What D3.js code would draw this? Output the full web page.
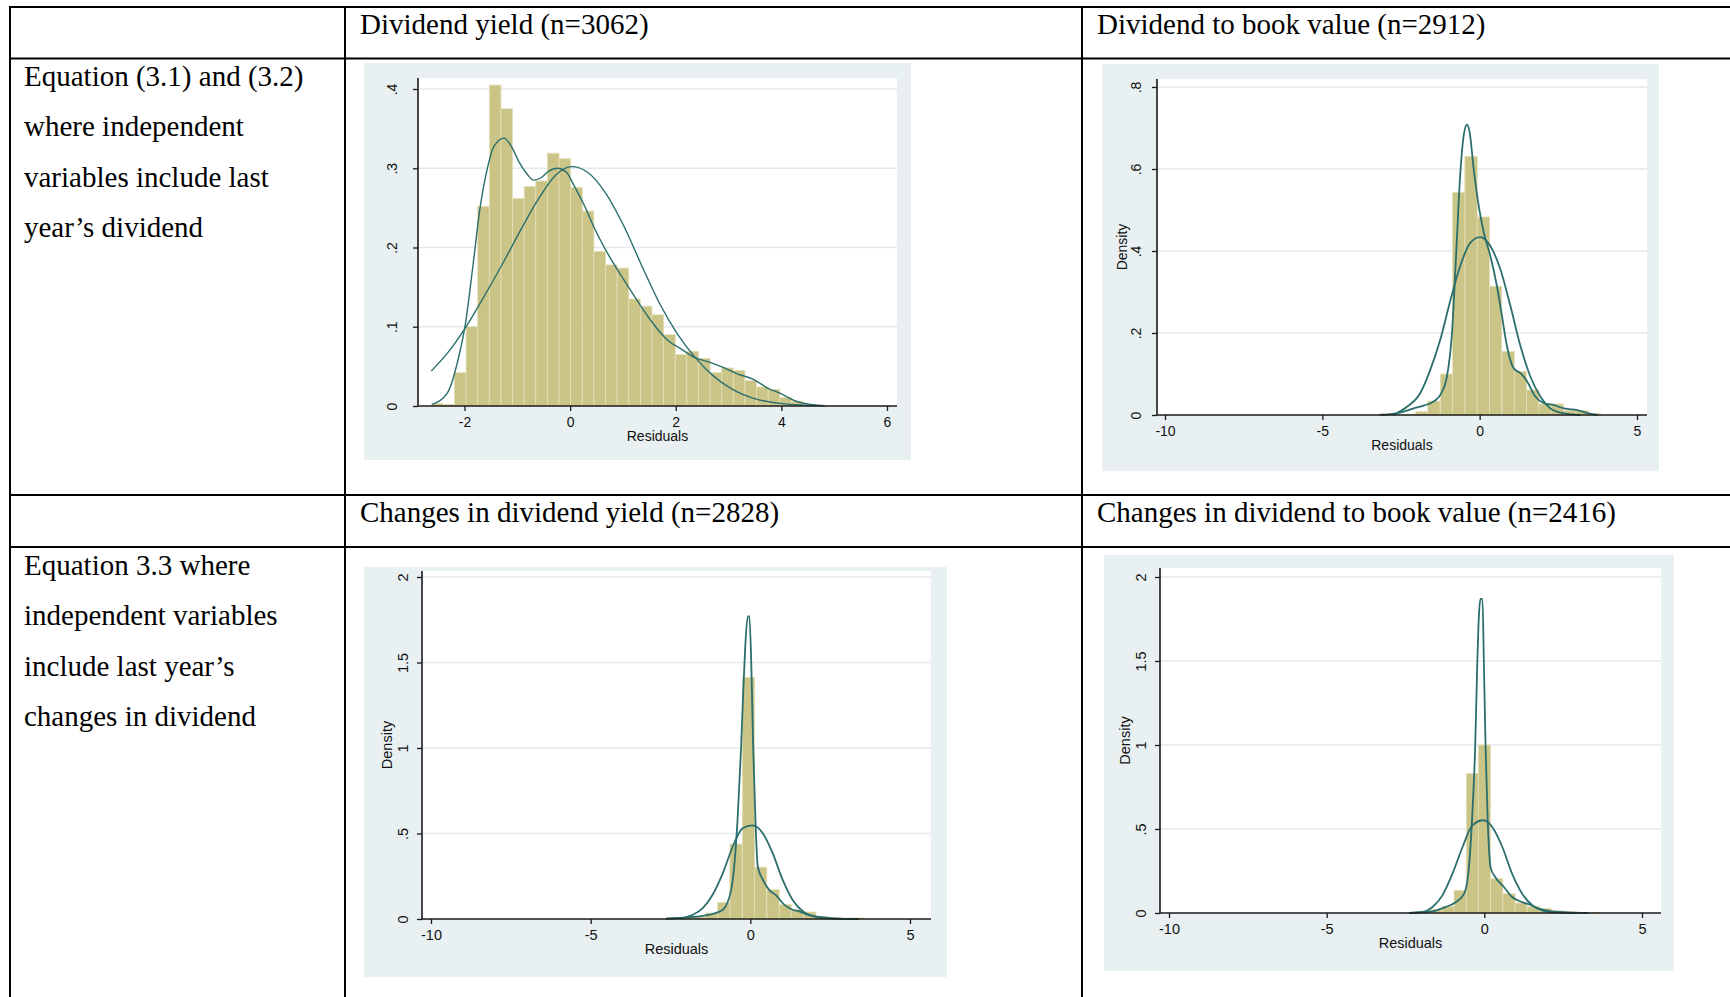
<!DOCTYPE html>
<html>
<head>
<meta charset="utf-8">
<script src="https://cdn.jsdelivr.net/npm/d3@7/dist/d3.min.js"></script>
<style>
body { margin: 0; background: #fff; }
svg text { font-family: "Liberation Sans", Arial, sans-serif; }
.cell { font-family: "Liberation Serif", "Times New Roman", serif; font-size: 29px; fill: #000; }
</style>
</head>
<body>
<svg width="1730" height="997"></svg>
<script>

// ---- table text
const headerTop = ["Dividend yield (n=3062)", "Dividend to book value (n=2912)"];
const headerBottom = ["Changes in dividend yield (n=2828)", "Changes in dividend to book value (n=2416)"];
const rowLabelTop = ["Equation (3.1) and (3.2)", "where independent", "variables include last", "year\u2019s dividend"];
const rowLabelBottom = ["Equation 3.3 where", "independent variables", "include last year\u2019s", "changes in dividend"];

// ---- tick labels
const ticksX1 = [-2, 0, 2, 4, 6];
const ticksY1 = [0, 0.1, 0.2, 0.3, 0.4];
const ticksX2 = [-10, -5, 0, 5];
const ticksY2 = [0, 0.2, 0.4, 0.6, 0.8];
const ticksY3 = [0, 0.5, 1, 1.5, 2];

// ---- Dividend yield (n=3062)
const dyBinWidth = 0.22;
const dyBinLeft = [-2.63, -2.41, -2.19, -1.97, -1.75, -1.53, -1.31, -1.09, -0.87, -0.65, -0.43, -0.21,
  0.01, 0.23, 0.45, 0.67, 0.89, 1.11, 1.33, 1.55, 1.77, 1.99, 2.21, 2.43, 2.65, 2.87, 3.09, 3.31,
  3.53, 3.75, 3.97, 4.19];
const dyHeight = [0.003, 0.002, 0.042, 0.100, 0.252, 0.405, 0.375, 0.262, 0.277, 0.284, 0.319, 0.312,
  0.276, 0.246, 0.195, 0.178, 0.174, 0.135, 0.126, 0.115, 0.090, 0.065, 0.069, 0.060, 0.042, 0.048,
  0.045, 0.032, 0.024, 0.021, 0.011, 0.006];
const dyKernel = [[-2.61, 0.002], [-2.32, 0.017], [-2.12, 0.059], [-1.98, 0.105], [-1.84, 0.177],
  [-1.71, 0.248], [-1.57, 0.299], [-1.44, 0.328], [-1.25, 0.338], [-1.10, 0.326], [-0.96, 0.307],
  [-0.82, 0.293], [-0.69, 0.285], [-0.55, 0.288], [-0.41, 0.296], [-0.24, 0.300], [-0.07, 0.295],
  [0.06, 0.280], [0.27, 0.253], [0.47, 0.223], [0.74, 0.189], [1.01, 0.160], [1.29, 0.131],
  [1.56, 0.105], [1.83, 0.084], [2.10, 0.072], [2.37, 0.061], [2.65, 0.055], [2.92, 0.048],
  [3.19, 0.040], [3.46, 0.034], [3.73, 0.023], [4.01, 0.015], [4.28, 0.006], [4.55, 0.002], [4.82, 0.0005]];
const dyNormal = [[-2.63, 0.044], [-2.32, 0.067], [-1.98, 0.099], [-1.64, 0.137], [-1.30, 0.177],
  [-0.96, 0.219], [-0.62, 0.259], [-0.28, 0.291], [0.03, 0.302], [0.33, 0.295], [0.67, 0.269],
  [1.01, 0.228], [1.35, 0.178], [1.69, 0.130], [2.03, 0.091], [2.37, 0.061], [2.71, 0.038],
  [3.05, 0.022], [3.46, 0.010], [4.01, 0.003], [4.82, 0.0003]];

// ---- Dividend to book value (n=2912)
const dbBinWidth = 0.392;
const dbBinLeft = [-3.21, -2.82, -2.43, -2.04, -1.65, -1.25, -0.86, -0.47, -0.08, 0.31, 0.71, 1.10,
  1.49, 1.88, 2.27, 2.67, 3.06, 3.45];
const dbHeight = [0.003, 0.0, 0.002, 0.008, 0.034, 0.100, 0.543, 0.631, 0.483, 0.314, 0.155, 0.106,
  0.061, 0.027, 0.027, 0.011, 0.011, 0.004];
const dbKernel = [[-3.16, 0.0], [-2.53, 0.006], [-2.10, 0.016], [-1.78, 0.023], [-1.46, 0.033],
  [-1.25, 0.049], [-1.04, 0.094], [-0.88, 0.200], [-0.74, 0.404], [-0.62, 0.584], [-0.49, 0.690],
  [-0.40, 0.708], [-0.32, 0.690], [-0.19, 0.600], [-0.03, 0.510], [0.13, 0.445], [0.34, 0.388],
  [0.55, 0.314], [0.71, 0.241], [0.87, 0.167], [1.08, 0.114], [1.30, 0.102], [1.51, 0.082],
  [1.77, 0.045], [2.04, 0.029], [2.36, 0.024], [2.68, 0.016], [3.10, 0.012], [3.47, 0.004], [3.74, 0.0]];
const dbNormal = [[-2.74, 0.0], [-2.31, 0.020], [-1.89, 0.053], [-1.57, 0.110], [-1.25, 0.184],
  [-0.93, 0.280], [-0.62, 0.363], [-0.30, 0.420], [0.02, 0.434], [0.34, 0.412], [0.66, 0.355],
  [0.98, 0.265], [1.30, 0.167], [1.61, 0.094], [1.93, 0.045], [2.25, 0.016], [2.68, 0.004], [3.20, 0.0]];

// ---- Changes in dividend yield (n=2828)
const cdyBinWidth = 0.384;
const cdyBinLeft = [-2.56, -2.17, -1.79, -1.40, -1.02, -0.64, -0.25, 0.13, 0.52, 0.90, 1.28, 1.67,
  2.05, 2.44, 2.82, 3.20];
const cdyHeight = [0.003, 0.005, 0.012, 0.035, 0.097, 0.438, 1.412, 0.303, 0.171, 0.084, 0.054, 0.041,
  0.015, 0.010, 0.006, 0.006];
const cdyKernel = [[-2.64, 0.002], [-1.80, 0.012], [-1.28, 0.025], [-0.86, 0.054], [-0.60, 0.170],
  [-0.40, 0.580], [-0.29, 1.000], [-0.22, 1.340], [-0.16, 1.590], [-0.08, 1.770], [-0.03, 1.770],
  [0.03, 1.490], [0.09, 1.000], [0.16, 0.580], [0.23, 0.310], [0.39, 0.230], [0.59, 0.170],
  [0.80, 0.140], [1.06, 0.084], [1.32, 0.054], [1.53, 0.045], [1.79, 0.025], [2.16, 0.012],
  [2.57, 0.004], [3.40, 0.0]];
const cdyNormal = [[-2.64, 0.002], [-2.22, 0.006], [-1.80, 0.025], [-1.49, 0.064], [-1.18, 0.142],
  [-0.86, 0.268], [-0.55, 0.424], [-0.24, 0.531], [0.05, 0.547], [0.39, 0.502], [0.70, 0.385],
  [1.01, 0.230], [1.32, 0.113], [1.64, 0.045], [2.05, 0.012], [2.57, 0.002], [3.40, 0.0]];

// ---- Changes in dividend to book value (n=2416)
const cdbBinWidth = 0.386;
const cdbBinLeft = [-2.50, -2.12, -1.73, -1.34, -0.96, -0.57, -0.19, 0.20, 0.59, 0.97, 1.36, 1.74,
  2.13, 2.51, 2.90, 3.29];
const cdbHeight = [0.004, 0.008, 0.020, 0.040, 0.135, 0.830, 1.000, 0.204, 0.115, 0.060, 0.040, 0.026,
  0.014, 0.008, 0.004, 0.003];
const cdbKernel = [[-2.38, 0.0], [-1.64, 0.010], [-1.22, 0.036], [-0.90, 0.065], [-0.64, 0.115],
  [-0.48, 0.290], [-0.38, 0.590], [-0.29, 0.990], [-0.23, 1.440], [-0.17, 1.780], [-0.12, 1.870],
  [-0.06, 1.870], [-0.01, 1.440], [0.04, 0.990], [0.10, 0.590], [0.20, 0.270], [0.36, 0.210],
  [0.62, 0.155], [0.88, 0.095], [1.20, 0.065], [1.41, 0.052], [1.73, 0.026], [2.15, 0.010],
  [2.67, 0.004], [3.30, 0.0]];
const cdbNormal = [[-2.38, 0.0], [-1.96, 0.006], [-1.64, 0.036], [-1.33, 0.105], [-1.01, 0.234],
  [-0.69, 0.393], [-0.38, 0.522], [-0.03, 0.552], [0.25, 0.512], [0.57, 0.393], [0.88, 0.234],
  [1.20, 0.115], [1.52, 0.046], [1.83, 0.016], [2.25, 0.004], [2.88, 0.0]];

const svg = d3.select('svg');
svg.append('rect').attr('width', 1730).attr('height', 997).attr('fill', '#fff');

//Table grid
const grid = svg.append('g').attr('stroke', '#000').attr('stroke-width', 2);
[7, 58.5, 495, 547].forEach(yy => {
  grid.append('line').attr('x1', 9).attr('x2', 1730).attr('y1', yy).attr('y2', yy);
});
[10, 345, 1082].forEach(xx => {
  grid.append('line').attr('x1', xx).attr('x2', xx).attr('y1', 6).attr('y2', 997);
});

//Table text
const txt = svg.append('g');
txt.selectAll('.h1').data(headerTop).enter().append('text')
  .attr('class', 'cell').attr('x', (d, i) => [360, 1097][i]).attr('y', 34).text(d => d);
txt.selectAll('.h2').data(headerBottom).enter().append('text')
  .attr('class', 'cell').attr('x', (d, i) => [360, 1097][i]).attr('y', 522).text(d => d);
txt.selectAll('.r1').data(rowLabelTop).enter().append('text')
  .attr('class', 'cell').attr('x', 24).attr('y', (d, i) => 86 + i * 50.4).text(d => d);
txt.selectAll('.r2').data(rowLabelBottom).enter().append('text')
  .attr('class', 'cell').attr('x', 24).attr('y', (d, i) => 574.5 + i * 50.6).text(d => d);

//Draw one Stata-style histogram with kernel + normal overlay
function drawChart(cfg, binLeft, binWidth, heights, kernel, normal) {
  const g = svg.append('g');
  const p = cfg.panel;

  g.append('rect').attr('x', p[0]).attr('y', p[1]).attr('width', p[2] - p[0]).attr('height', p[3] - p[1])
    .attr('fill', '#e9f0f2');
  g.append('rect').attr('x', cfg.left).attr('y', cfg.top).attr('width', cfg.right - cfg.left)
    .attr('height', cfg.bottom - cfg.top).attr('fill', '#fff');

  const x = d3.scaleLinear().domain(cfg.xRef).range(cfg.xPix);
  const y = d3.scaleLinear().domain([0, cfg.yTicks[cfg.yTicks.length - 1]]).range([cfg.bottom, cfg.yTopPix]);

  //gridlines
  g.selectAll('.grid').data(cfg.yTicks.filter(t => t > 0)).enter().append('line')
    .attr('x1', cfg.left).attr('x2', cfg.right)
    .attr('y1', d => y(d)).attr('y2', d => y(d))
    .attr('stroke', '#e2eaee').attr('stroke-width', 1.5);

  //bars
  g.selectAll('.bar').data(heights).enter().append('rect')
    .attr('x', (d, i) => x(binLeft[i]))
    .attr('width', (d, i) => x(binLeft[i] + binWidth) - x(binLeft[i]))
    .attr('y', d => y(d))
    .attr('height', d => cfg.bottom - y(d))
    .attr('fill', '#cbc487')
    .attr('stroke', '#e4dfb8').attr('stroke-width', 0.8);

  const line = d3.line().x(d => x(d[0])).y(d => y(d[1])).curve(d3.curveMonotoneX);
  [normal, kernel].forEach(s => {
    g.append('path').attr('d', line(s)).attr('fill', 'none')
      .attr('stroke', '#2b6f6d').attr('stroke-width', cfg.lw);
  });

  //axes
  const fmt = d => (d % 1 ? String(d).replace(/^0/, '') : String(d));
  const ax = g.append('g').attr('transform', `translate(0,${cfg.bottom})`)
    .call(d3.axisBottom(x).tickValues(cfg.xTicks).tickSize(5).tickSizeOuter(0).tickFormat(d3.format('d')));
  ax.select('.domain').attr('d', `M${cfg.left},0H${cfg.right}`);
  ax.selectAll('line').attr('stroke', '#1a1a1a').attr('stroke-width', 1.3);
  ax.select('.domain').attr('stroke', '#1a1a1a').attr('stroke-width', 1.6);
  ax.selectAll('text').attr('y', 11).attr('font-size', cfg.fs).attr('fill', '#111')
    .text(d => d < 0 ? '-' + Math.abs(d) : d);

  const ay = g.append('g').attr('transform', `translate(${cfg.left},0)`)
    .call(d3.axisLeft(y).tickValues(cfg.yTicks).tickSize(5).tickSizeOuter(0).tickFormat(fmt));
  ay.select('.domain').attr('d', `M0,${cfg.bottom}V${cfg.top}`);
  ay.selectAll('line').attr('stroke', '#1a1a1a').attr('stroke-width', 1.3);
  ay.select('.domain').attr('stroke', '#1a1a1a').attr('stroke-width', 1.6);
  ay.selectAll('text').attr('x', null).attr('dy', '0.35em').attr('text-anchor', 'middle')
    .attr('transform', `translate(${-cfg.yLabOff},0) rotate(-90)`)
    .attr('font-size', cfg.fs).attr('fill', '#111');

  g.append('text').attr('x', (cfg.left + cfg.right) / 2).attr('y', cfg.bottom + 35)
    .attr('text-anchor', 'middle').attr('font-size', cfg.fs).attr('fill', '#111').text('Residuals');

  if (cfg.density) {
    g.append('text').attr('transform', `translate(${cfg.left - 35},${(cfg.top + cfg.bottom) / 2}) rotate(-90)`)
      .attr('text-anchor', 'middle').attr('dy', '0.35em').attr('font-size', cfg.fs).attr('fill', '#111')
      .text('Density');
  }
}

drawChart({panel: [364, 63, 911, 460], left: 418, right: 897, top: 78, bottom: 406,
  xRef: [-2, 6], xPix: [464.5, 887], yTopPix: 89, xTicks: ticksX1, yTicks: ticksY1,
  fs: 14, yLabOff: 26, lw: 1.4, density: false}, dyBinLeft, dyBinWidth, dyHeight, dyKernel, dyNormal);

drawChart({panel: [1102, 64, 1659, 471], left: 1157, right: 1647, top: 79, bottom: 415,
  xRef: [-10, 5], xPix: [1165, 1637], yTopPix: 87, xTicks: ticksX2, yTicks: ticksY2,
  fs: 14, yLabOff: 21, lw: 1.8, density: true}, dbBinLeft, dbBinWidth, dbHeight, dbKernel, dbNormal);

drawChart({panel: [364, 567, 947, 977], left: 422, right: 931, top: 571, bottom: 919,
  xRef: [-10, 5], xPix: [431, 910], yTopPix: 577, xTicks: ticksX2, yTicks: ticksY3,
  fs: 14.5, yLabOff: 19, lw: 1.8, density: true}, cdyBinLeft, cdyBinWidth, cdyHeight, cdyKernel, cdyNormal);

drawChart({panel: [1104, 555, 1674, 971], left: 1160, right: 1661, top: 568, bottom: 913,
  xRef: [-10, 5], xPix: [1169, 1642], yTopPix: 577, xTicks: ticksX2, yTicks: ticksY3,
  fs: 14.5, yLabOff: 19, lw: 1.8, density: true}, cdbBinLeft, cdbBinWidth, cdbHeight, cdbKernel, cdbNormal);

</script>
</body>
</html>
